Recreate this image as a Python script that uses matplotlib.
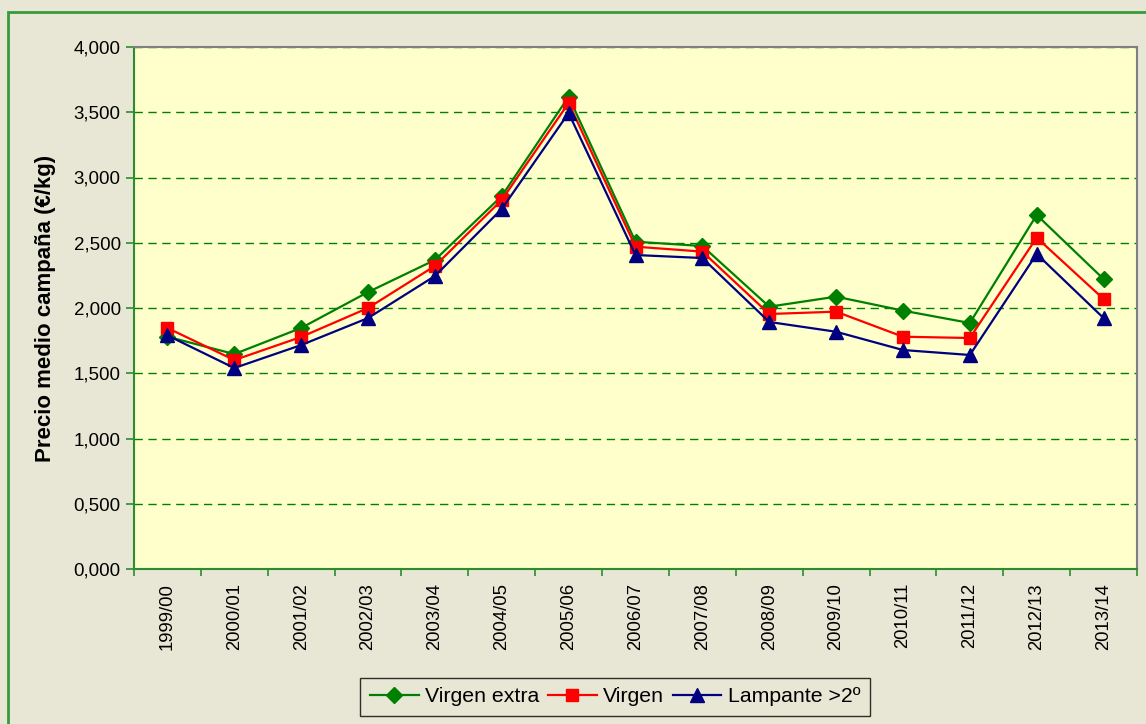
import matplotlib.pyplot as plt
import numpy as np
from matplotlib.patches import Rectangle
from matplotlib.ticker import FuncFormatter

plt.rcParams['font.family'] = ['Liberation Sans', 'DejaVu Sans']

campanas = ['1999/00', '2000/01', '2001/02', '2002/03', '2003/04', '2004/05',
            '2005/06', '2006/07', '2007/08', '2008/09', '2009/10', '2010/11',
            '2011/12', '2012/13', '2013/14']
virgen_extra = [1.780, 1.647, 1.847, 2.122, 2.368, 2.858, 3.619, 2.508,
                2.475, 2.010, 2.087, 1.980, 1.885, 2.713, 2.222]
virgen = [1.847, 1.601, 1.778, 2.000, 2.322, 2.828, 3.571, 2.470,
          2.432, 1.954, 1.972, 1.780, 1.770, 2.539, 2.069]
lampante = [1.790, 1.540, 1.716, 1.923, 2.245, 2.759, 3.494, 2.406,
            2.383, 1.893, 1.818, 1.678, 1.640, 2.414, 1.923]

fig = plt.figure(figsize=(11.46, 7.24), dpi=100)
fig.patch.set_facecolor('#E8E7D5')
# marco exterior verde
fig.add_artist(Rectangle((8/1146, -0.05), 1.2, 1 - 12/724 + 0.05,
                         transform=fig.transFigure, fill=False,
                         edgecolor='#3A9A3A', linewidth=2))

ax = fig.add_axes([134/1146, 1 - 569/724, (1137 - 134)/1146, (569 - 47)/724])
ax.set_facecolor('#FFFFCC')

x = np.arange(len(campanas))
ax.plot(x, virgen_extra, color='#008000', marker='D', markersize=8, linewidth=1.6,
        label='Virgen extra')
ax.plot(x, virgen, color='#FF0000', marker='s', markersize=8.5, linewidth=1.6,
        label='Virgen')
ax.plot(x, lampante, color='#000080', marker='^', markersize=10, linewidth=1.6,
        label='Lampante >2º')

ax.set_xlim(-0.5, len(campanas) - 0.5)
ax.set_ylim(0, 4)
ax.set_yticks(np.arange(0, 4.01, 0.5))
ax.yaxis.set_major_formatter(FuncFormatter(lambda v, p: f'{v:.3f}'.replace('.', ',')))
ax.set_xticks(x)
ax.set_xticklabels(campanas, rotation=90, fontsize=13.3)
ax.set_xticks(np.arange(-0.5, len(campanas), 1), minor=True)
ax.tick_params(axis='x', which='major', length=0, pad=10)
ax.tick_params(axis='x', which='minor', length=5, color='#2E8B2E', width=1.2)
ax.tick_params(axis='y', labelsize=13.5, length=6, color='#2E8B2E', width=1.2)

ax.grid(axis='y', color='#008000', linestyle=(0, (6, 4)), linewidth=1)
ax.set_axisbelow(True)

for s in ['left', 'bottom']:
    ax.spines[s].set_color('#2E8B2E')
    ax.spines[s].set_linewidth(1.5)
for s in ['top', 'right']:
    ax.spines[s].set_color('#808080')
    ax.spines[s].set_linewidth(1.5)

ax.set_ylabel('Precio medio campaña (€/kg)', fontsize=16, fontweight='bold', labelpad=13)

leg = fig.legend(loc='center', bbox_to_anchor=(615/1146, 1 - 697/724), ncol=3,
                 fontsize=15.3, frameon=True, fancybox=False, edgecolor='black',
                 facecolor='#E8E7D5', handlelength=2.3, handletextpad=0.3,
                 columnspacing=0.4, borderpad=0.45, borderaxespad=0)
leg.get_frame().set_linewidth(1)

fig.savefig('out.png', dpi=100, facecolor=fig.get_facecolor())
